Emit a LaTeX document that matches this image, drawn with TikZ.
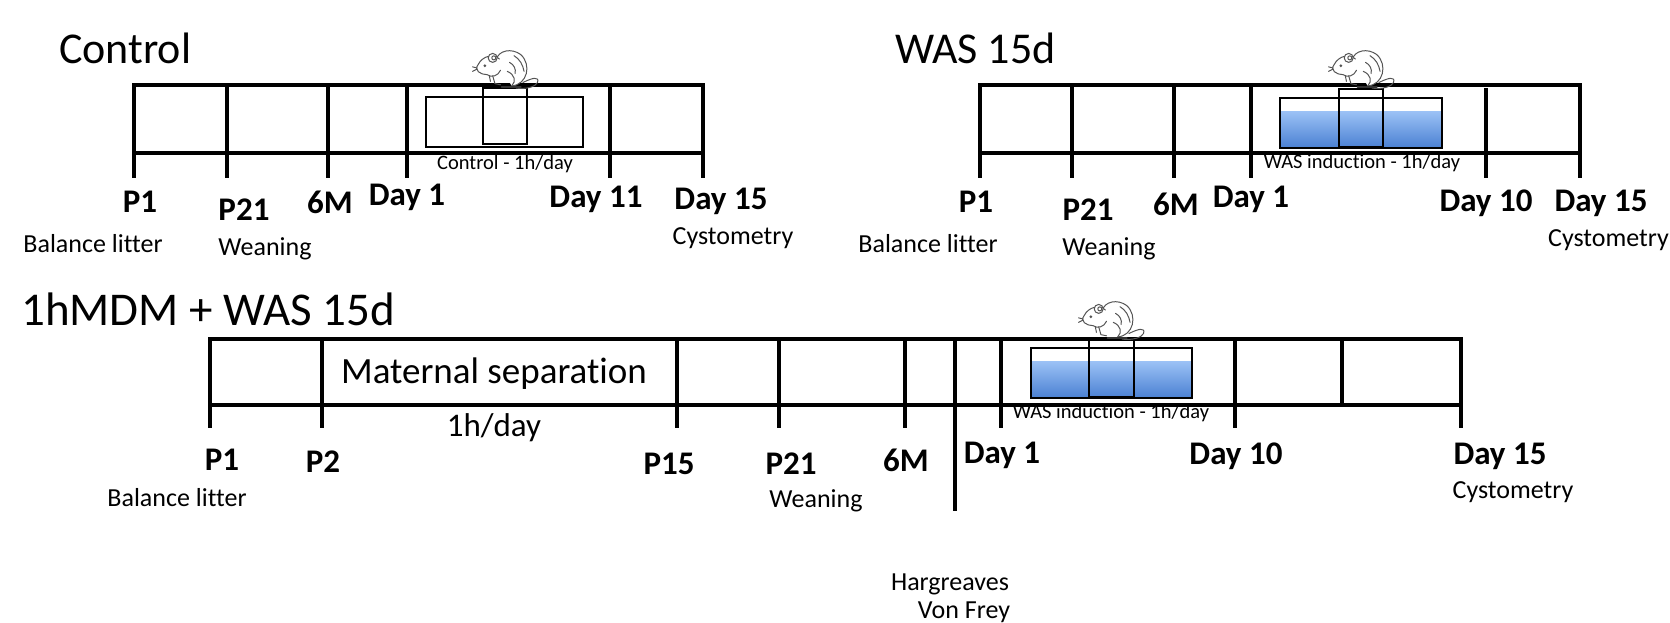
\documentclass[tikz,border=0pt]{standalone}
\usepackage{fontspec}
\setmainfont{Carlito}[Ligatures=NoCommon]
\definecolor{waterTop}{HTML}{9CC2F6}
\definecolor{waterBot}{HTML}{4A80D2}
\definecolor{ratGray}{HTML}{555555}
\tikzset{
  tl/.style={line width=3.2pt, line cap=rect},
  box/.style={line width=1.8pt},
  ttl/.style={font=\fontsize{44}{50}\selectfont, inner sep=0, anchor=west},
  lbl/.style={font=\fontsize{33}{38}\selectfont\bfseries, inner sep=0},
  sub/.style={font=\fontsize{26}{30}\selectfont, inner sep=0},
  small/.style={font=\fontsize{20.5}{24}\selectfont, inner sep=0},
  rat/.pic={
    \begin{scope}[scale=1.12, draw=ratGray, line width=1pt, line cap=round, line join=round]
      \draw[fill=white] (6,-1) .. controls (20,-2) and (24,-20) .. (14,-29)
            .. controls (6,-35) and (-6,-33) .. (-8,-24);
      \draw[fill=white] (-5,-25) .. controls (-10,-30) and (-20,-28) .. (-24,-20)
            .. controls (-28,-15) and (-22,-11) .. (-16,-11)
            .. controls (-12,-8) and (-6,-10) .. (-4,-15);
      \draw[fill=white] (-11,-26) circle (4);
      \draw (-10,-26) circle (1.8);
      \fill[ratGray] (-18,-19) circle (1.4);
      \draw (-25,-17) -- (-29,-18) (-25,-16) -- (-29,-14);
      \draw (-11,-10) -- (-9,-3) -- (-4,-2);
      \draw (-14,-10) -- (-13,-5);
      \draw (2,-14) .. controls (9,-11) and (10,-5) .. (6,-1);
      \draw (16,-4) .. controls (24,-8) and (31,-10) .. (29,-4)
            .. controls (27,0) and (19,2) .. (10,1);
      \draw (4,-22) .. controls (8,-20) and (10,-16) .. (9,-12);
      \draw (8,-28) .. controls (13,-25) and (16,-20) .. (17,-14);
      \draw[line width=2.2pt, draw=black!80] (-3,0) -- (14,0);
    \end{scope}
  }
}
\begin{document}
\begin{tikzpicture}[x=1pt,y=-1pt]
\useasboundingbox (0,0) rectangle (1670,622);

% ================= Control =================
\node[ttl] (tControl) at (59,48) {Control};
\draw[tl] (134,85) -- (703,85);
\draw[tl] (134,153) -- (703,153);
\foreach \x in {134,227,328,407,610,703} \draw[tl] (\x,85) -- (\x,176);
% platform
\draw[box] (426,97) rectangle (583,147);
\draw[box] (483,88) rectangle (527,144);
\pic at (505,87) {rat};
\node[small] (cText) at (505,164) {Control - 1h/day};
\node[lbl] (cP1) at (140,202) {P1};
\node[lbl] (cP21) at (244,210) {P21};
\node[lbl] (c6M) at (330,202) {6M};
\node[lbl] (cD1) at (407,197) {Day 1};
\node[lbl] (cD11) at (596,199) {Day 11};
\node[lbl] (cD15) at (721,201) {Day 15};
\node[sub] (cBal) at (93,244) {Balance litter};
\node[sub] (cWean) at (265,249) {Weaning};
\node[sub] (cCyst) at (733,238) {Cystometry};

% ================= WAS 15d =================
\node[ttl] (tWAS) at (895,48) {WAS 15d};
\draw[tl] (980,85) -- (1580,85);
\draw[tl] (980,153) -- (1580,153);
\foreach \x in {980,1072,1174,1251,1580} \draw[tl] (\x,85) -- (\x,176);
\draw[tl] (1486,90) -- (1486,176);
% pool
\shade[top color=waterTop, bottom color=waterBot] (1280,111) rectangle (1442,148);
\draw[box] (1280,98) rectangle (1442,148);
\draw[box] (1339,89) rectangle (1383,147);
\pic at (1361,87) {rat};
\node[small] (wText) at (1362,163) {WAS induction - 1h/day};
\node[lbl] (wP1) at (976,202) {P1};
\node[lbl] (wP21) at (1088,210) {P21};
\node[lbl] (w6M) at (1176,204) {6M};
\node[lbl] (wD1) at (1251,199) {Day 1};
\node[lbl] (wD10) at (1486,203) {Day 10};
\node[lbl] (wD15) at (1601,203) {Day 15};
\node[sub] (wBal) at (928,244) {Balance litter};
\node[sub] (wWean) at (1109,249) {Weaning};
\node[sub, anchor=east] (wCyst) at (1669,240) {Cystometry};

% ================= 1hMDM + WAS 15d =================
\node[ttl, font=\fontsize{47}{52}\selectfont] (tMDM) at (21,309) {1hMDM + WAS 15d};
\draw[tl] (210,339) -- (1461,339);
\draw[tl] (210,405) -- (1461,405);
\foreach \x in {210,322,677,779,905,1001,1235,1461} \draw[tl] (\x,339) -- (\x,426);
\draw[tl] (1342,339) -- (1342,405);
\draw[tl] (955,339) -- (955,509);
\node[font=\fontsize{37}{42}\selectfont, inner sep=0] (ms) at (494,374) {Maternal separation};
\node[font=\fontsize{33}{38}\selectfont, inner sep=0] (ms2) at (494,428) {1h/day};
% pool
\shade[top color=waterTop, bottom color=waterBot] (1031,361) rectangle (1192,398);
\draw[box] (1031,348) rectangle (1192,398);
\draw[box] (1089,339) rectangle (1134,397);
\pic at (1111,338) {rat};
\node[small] (mText) at (1111,413) {WAS induction - 1h/day};
\node[lbl] (mP1) at (222,460) {P1};
\node[lbl] (mP2) at (323,462) {P2};
\node[lbl] (mP15) at (669,464) {P15};
\node[lbl] (mP21) at (791,464) {P21};
\node[lbl] (m6M) at (906,460) {6M};
\node[lbl] (mD1) at (1002,455) {Day 1};
\node[lbl] (mD10) at (1236,456) {Day 10};
\node[lbl] (mD15) at (1500,456) {Day 15};
\node[sub] (mBal) at (177,498) {Balance litter};
\node[sub] (mWean) at (816,501) {Weaning};
\node[sub] (mCyst) at (1513,492) {Cystometry};
\node[sub] (harg) at (950,584) {Hargreaves};
\node[sub] (vf) at (964,612) {Von Frey};
\end{tikzpicture}
\end{document}
